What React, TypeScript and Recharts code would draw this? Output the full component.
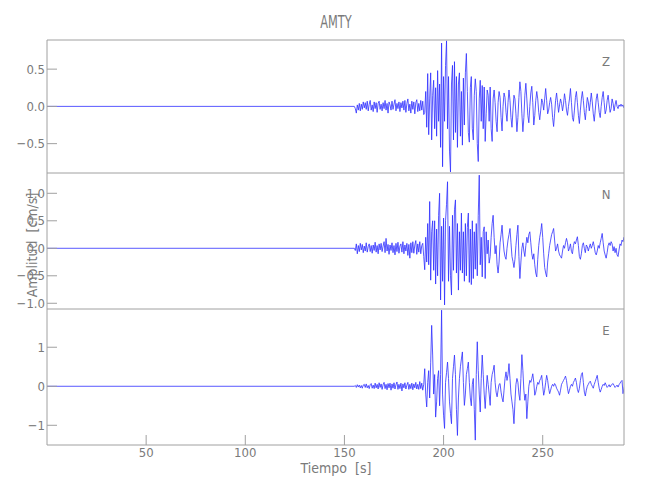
import { ComposedChart, Line, XAxis, YAxis } from 'recharts'

const FONT = "'Liberation Sans Narrow', 'DejaVu Sans Condensed', 'Liberation Sans', sans-serif"
const TEXT = '#7a7a7a'
const FRAME = '#a0a0a0'
const TRACE = '#2f2fff'

// time axis (s)
const T_MAX = 291
const X_MAJOR = [50, 100, 150, 200, 250]
const X_MINOR = [10, 20, 30, 40, 60, 70, 80, 90, 110, 120, 130, 140, 160, 170, 180, 190, 210, 220, 230, 240, 260, 270, 280, 290]

// samples start at 155 s, one every 0.5 s; before that the trace is flat
const T0 = 155
const DT = 0.5

// amplitudes in 0.01 cm/s, rows of 10 s
const Z_AMP = [
  0, -3, -9, 2, -5, 4, -6, 3, -4, 6, -2, 5, -4, 7, -6, 3, 8, -5, 2, -7,
  6, -3, 5, -8, 4, 7, -4, 3, -6, 5, -3, 8, -5, 4, -9, 6, 2, -5, 7, -4,
  3, 9, -6, 4, -3, 6, -7, 5, -2, 7, -5, 8, -8, 4, 10, -6, 3, -9, 7, -4,
  6, -10, 5, 9, -7, 4, -6, 8, -5, 7, -11, -8, 20, -28, 44, -38, 10, 45, -45, 15,
  35, -30, 25, -40, 48, -20, 30, -55, 85, -81, 40, -20, 55, 88, -30, 40, -60, -88, 30, 55,
  -45, 60, -35, 40, -55, 30, 45, -40, 20, -52, 38, -25, 45, 71, 20, -35, -48, 25, 40, -30,
  -45, 15, 37, 20, -50, -74, 10, 35, -20, 28, -30, 26, -47, -10, 22, 15, -20, 26, -30, -47,
  10, 22, 5, -20, -34, 5, 20, 12, -15, -33, 0, 18, 12, -8, -20, 5, 22, 8, -15, -28,
  -5, 15, 10, -10, -34, -15, 12, 33, 20, -10, -34, -15, 15, 31, 10, -12, -22, 0, 18, 27,
  5, -25, -12, 8, 20, 10, -8, -18, -5, 10, 5, -5, 10, 24, 8, -10, -5, 5, 12, 3,
  -15, -27, -10, 8, 18, 5, -8, 2, 10, 4, -6, 3, 17, 8, -5, -12, 0, 10, 24, 5,
  -15, -20, -5, 12, 20, 5, -12, -23, -5, 10, 20, 8, -8, -18, -3, 12, 6, -6, 5, 18,
  6, -10, -20, -5, 10, 17, 5, -8, -15, 0, 12, 20, 5, -10, -5, 8, 15, 3, -8, -3,
  10, 4, -6, 2, 8, 0, -3, 2, 0, 3, 0, 2, -2, 1, 0,
]

const N_AMP = [
  0, -4, 8, -10, 5, -6, 9, -3, 7, -8, 4, -5, 10, -7, 3, 8, -6, 5, -9, 6,
  -4, 11, -7, 5, -10, 8, -3, 9, -6, 4, 12, -8, 18, -5, 7, -11, 6, -4, 10, -8,
  5, -12, 9, -6, 11, -9, 4, 8, -7, 12, -10, 6, -5, 9, -13, 7, -18, 10, -8, 12,
  -9, 6, 14, -11, 8, -7, 12, -10, 5, 9, -15, -39, 20, -25, 45, -30, 85, -58, 30, 50,
  -40, 50, -65, 35, -50, 60, 100, -94, 40, -60, 55, -103, 50, 80, 121, -60, 40, -50, -85, 60,
  -40, 70, 88, -45, 45, -76, 30, -40, 64, -45, 30, -60, 45, -50, 38, 64, -62, 35, -66, 50,
  -55, 30, -38, 45, -50, 60, 133, -30, 20, -52, 30, 39, -55, 30, -10, 15, -27, -15, 20, 45,
  60, 20, -10, 5, -30, -45, -25, 10, 25, 42, 15, -5, -15, -20, 0, 15, 25, 36, 10, -15,
  -24, -35, -20, 5, 25, 42, -15, -55, -25, 0, 10, -5, -15, 5, 20, 10, 25, 30, 10, -10,
  -20, -10, -30, -45, -52, -20, 5, 20, 30, 45, 20, -10, -35, -45, -52, -25, -10, 5, 15, 25,
  30, 36, 15, -5, 0, 8, -5, -12, -15, -18, -5, 5, 0, 10, 18, 10, -5, 0, 8, -6,
  -10, 5, 12, 8, 15, 21, 5, -15, -20, -10, 5, 10, 0, -8, 6, 3, -5, 2, 8, 0,
  5, 12, 3, -8, -12, -5, 5, 0, 10, 18, 27, 10, -5, -12, -18, -8, 5, 10, 5, 12,
  8, -5, 3, -8, 0, -12, -15, -3, 8, 5, 15, 12, 20, 8, -5,
]

const E_AMP = [
  0, 2, -3, 4, -2, 3, -4, 2, -5, 3, 5, -3, 6, -4, 2, -6, 4, 7, -5, 3,
  -6, 8, -4, 5, -7, 9, -3, 6, -8, 4, 10, -6, 5, -9, 7, -4, 8, -10, 6, -5,
  9, -7, 4, 11, -8, 5, -6, 8, -12, 6, -4, 9, -7, 3, 10, -8, 5, -6, 8, -9,
  6, -4, 10, -7, 5, -8, 12, -6, 8, -10, 5, 45, -20, -53, 10, 40, -30, 60, 156, 80,
  -20, 30, -79, -40, 20, 40, -50, 30, 195, -20, -74, -108, 10, 35, 62, 20, -40, -70, -96, 20,
  50, 80, 30, -60, -126, -30, 20, 50, 70, 88, 10, -49, -20, 30, 45, 62, 10, -30, -50, 5,
  20, -60, -138, 30, 114, 40, -20, -66, 20, 80, 30, -20, -57, -10, 28, 5, -20, -49, 10, 30,
  40, 54, 10, -15, -27, -10, 5, 7, -15, -30, -40, -10, 20, 37, 15, 30, 58, 20, -20, -40,
  -60, -96, -40, 5, 20, 10, -20, -36, 20, 81, 40, -10, -36, -20, -83, -40, 0, 15, 10, 20,
  32, 10, -23, -15, 0, 10, 5, 15, 20, 28, 0, -23, -10, 10, 28, 15, -5, -19, -10, 0,
  5, 0, 7, 3, -5, -10, -15, -23, -10, 5, 10, 15, 20, 26, 15, -5, -19, -10, 0, 5,
  0, 10, 15, 21, 10, -8, -16, -5, 15, 30, 35, 10, -15, -25, -10, 0, 5, 10, 13, 5,
  0, -5, 5, 12, 20, 28, 10, -5, -15, -8, 0, 5, 2, 9, 3, -3, 0, 4, -2, 3,
  5, 7, 2, -3, 0, 3, -2, 4, 8, 12, 15, -19, -5, 5, 0,
]

// amplitude axes
const Z_DOMAIN = [-0.894, 0.891]
const Z_MAJOR = [-0.5, 0, 0.5]
const Z_MINOR = [-0.75, -0.25, 0.25, 0.75]
const N_DOMAIN = [-1.104, 1.369]
const N_MAJOR = [-1, -0.5, 0, 0.5, 1]
const N_MINOR = [-0.75, -0.25, 0.25, 0.75, 1.25]
const E_DOMAIN = [-1.505, 1.98]
const E_MAJOR = [-1, 0, 1]
const E_MINOR = [-1.5, -0.5, 0.5, 1.5]

const PLOT_LEFT = 47
const PLOT_RIGHT = 624

const toSeries = (amp: number[]) => [
  { t: 0, v: 0 },
  ...amp.map((a, i) => ({ t: T0 + i * DT, v: a / 100 })),
]

const fmt1 = (v: number) => v.toFixed(1).replace('-', '\u2212')
const fmt0 = (v: number) => String(v).replace('-', '\u2212')

const tickText = { fill: TEXT, fontSize: 13, fontFamily: FONT }

interface PanelProps {
  amp: number[]
  domain: number[]
  major: number[]
  minor: number[]
  fmt: (v: number) => string
  name: string
  top: number
  bottom: number
  showX?: boolean
}

function Panel({ amp, domain, major, minor, fmt, name, top, bottom, showX = false }: PanelProps) {
  const mt = 8
  const mb = showX ? 30 : 8
  const height = mt + 2 + (bottom - top) + (showX ? 2 : 0) + mb
  const xCommon = {
    type: 'number' as const,
    dataKey: 't',
    domain: [0, T_MAX],
    allowDataOverflow: true,
    interval: 0 as const,
    height: 1,
    stroke: FRAME,
    tickLine: { stroke: FRAME },
  }
  const yCommon = {
    type: 'number' as const,
    dataKey: 'v',
    domain,
    allowDataOverflow: true,
    interval: 0 as const,
    width: 1,
    stroke: FRAME,
    tickLine: { stroke: FRAME },
  }

  return (
    <>
      <div style={{ position: 'absolute', left: 0, top: top - mt - 2 }}>
        <ComposedChart
          width={650}
          height={height}
          data={toSeries(amp)}
          margin={{ top: mt, right: 650 - PLOT_RIGHT - 2, bottom: mb, left: PLOT_LEFT - 2 }}
        >
          <XAxis {...xCommon} xAxisId="top" orientation="top" ticks={X_MAJOR} tickSize={-10} tick={false} />
          <XAxis {...xCommon} xAxisId="topMinor" orientation="top" ticks={X_MINOR} tickSize={-5} tick={false} axisLine={false} />
          {showX && (
            <XAxis {...xCommon} xAxisId="bottom" orientation="bottom" ticks={X_MAJOR} tickSize={-10} tickMargin={13} tick={tickText} />
          )}
          {showX && (
            <XAxis {...xCommon} xAxisId="bottomMinor" orientation="bottom" ticks={X_MINOR} tickSize={-5} tick={false} axisLine={false} />
          )}
          <YAxis {...yCommon} yAxisId="left" orientation="left" ticks={major} tickSize={-10} tickMargin={12} tickFormatter={fmt} tick={tickText} />
          <YAxis {...yCommon} yAxisId="leftMinor" orientation="left" ticks={minor} tickSize={-5} tick={false} axisLine={false} />
          <YAxis {...yCommon} yAxisId="right" orientation="right" ticks={major} tickSize={-10} tick={false} />
          <YAxis {...yCommon} yAxisId="rightMinor" orientation="right" ticks={minor} tickSize={-5} tick={false} axisLine={false} />
          <Line
            xAxisId="top"
            yAxisId="left"
            type="linear"
            dataKey="v"
            stroke={TRACE}
            strokeWidth={0.8}
            dot={false}
            isAnimationActive={false}
          />
        </ComposedChart>
      </div>
      <div style={{ position: 'absolute', left: 596, top: top + 14, width: 20, textAlign: 'center', fontSize: 13, color: TEXT }}>
        {name}
      </div>
    </>
  )
}

export default function App() {
  return (
    <div style={{ position: 'absolute', left: 0, top: 0, width: 650, height: 500, background: '#fff', fontFamily: FONT, color: TEXT }}>
      <div style={{ position: 'absolute', left: 286, top: 11, width: 100, textAlign: 'center', fontSize: 18, transform: 'scaleX(0.7)' }}>
        AMTY
      </div>
      <Panel amp={Z_AMP} domain={Z_DOMAIN} major={Z_MAJOR} minor={Z_MINOR} fmt={fmt1} name="Z" top={40} bottom={173} />
      <Panel amp={N_AMP} domain={N_DOMAIN} major={N_MAJOR} minor={N_MINOR} fmt={fmt1} name="N" top={173} bottom={309} />
      <Panel amp={E_AMP} domain={E_DOMAIN} major={E_MAJOR} minor={E_MINOR} fmt={fmt0} name="E" top={309} bottom={445} showX />
      <div style={{ position: 'absolute', left: 286, top: 460, width: 100, textAlign: 'center', fontSize: 14 }}>
        Tiempo&nbsp; [s]
      </div>
      <div
        style={{
          position: 'absolute',
          left: 32 - 60,
          top: 245 - 10,
          width: 120,
          height: 20,
          lineHeight: '20px',
          textAlign: 'center',
          fontSize: 14,
          transform: 'rotate(-90deg)',
        }}
      >
        Amplitud&nbsp; [cm/s]
      </div>
    </div>
  )
}
